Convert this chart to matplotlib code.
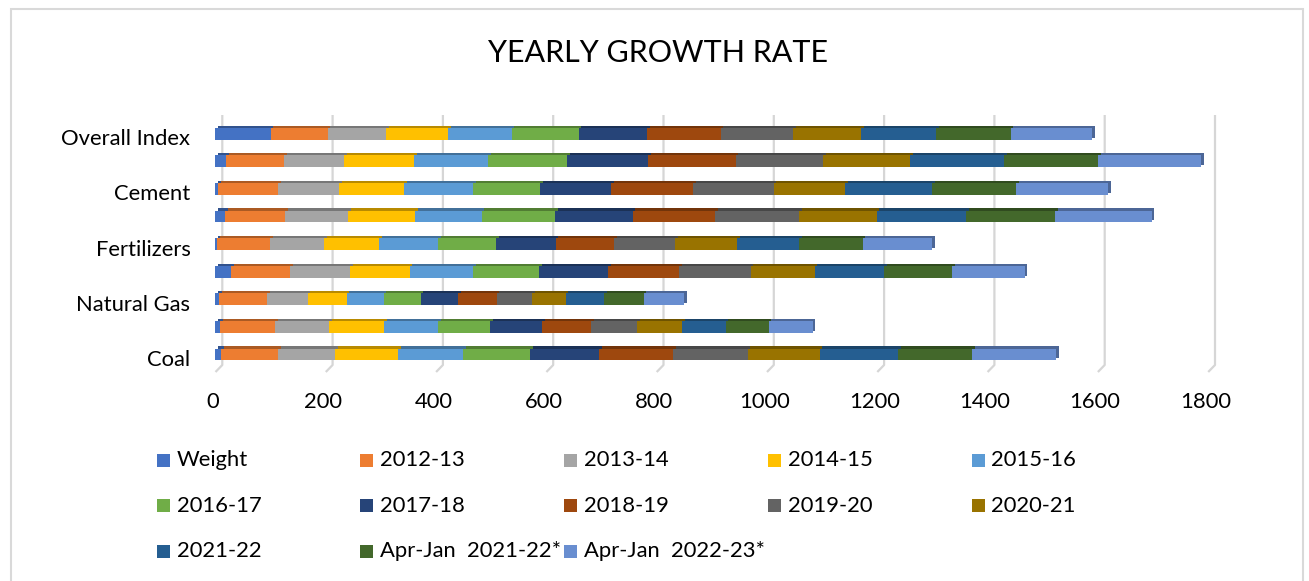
import matplotlib
matplotlib.use("Agg")
import matplotlib.pyplot as plt
import matplotlib.patheffects as pe
from matplotlib.patches import Rectangle
from matplotlib.transforms import IdentityTransform, ScaledTranslation
import matplotlib.colors as mcolors
import numpy as np

plt.rcParams['font.family'] = ['Lato', 'DejaVu Sans']

categories = ["Coal", "Crude Oil", "Natural Gas", "Refinery Products", "Fertilizers",
              "Steel", "Cement", "Electricity", "Overall Index"]

series_names = ["Weight", "2012-13", "2013-14", "2014-15", "2015-16", "2016-17",
                "2017-18", "2018-19", "2019-20", "2020-21", "2021-22",
                "Apr-Jan  2021-22*", "Apr-Jan  2022-23*"]

colors = ["#4472C4", "#ED7D31", "#A5A5A5", "#FFC000", "#5B9BD5", "#70AD47",
          "#264478", "#9E480E", "#636363", "#997300", "#255E91", "#43682B", "#698ED0"]

# values per category (order of series_names)
coal        = [10.33, 103.3, 103.4, 113.6, 118.5, 121.5, 124.5, 134.4, 135.3, 130.7, 142.9, 133.5, 153.0]
crude_oil   = [8.98, 99.7, 97.9, 99.1, 97.3, 94.9, 94.3, 89.5, 83.4, 81.0, 78.9, 78.1, 79.6]
natural_gas = [6.88, 86.5, 73.7, 70.7, 67.1, 67.1, 68.3, 69.5, 64.7, 60.4, 70.1, 71.4, 73.7]
refinery    = [28.04, 107.0, 108.8, 108.2, 115.4, 119.1, 125.7, 128.4, 129.7, 116.1, 126.0, 123.3, 131.5]
fertilizers = [2.63, 96.7, 97.3, 99.8, 106.9, 105.8, 107.6, 106.4, 109.9, 112.5, 112.6, 115.1, 126.8]
steel       = [17.92, 108.2, 113.7, 122.7, 120.2, 133.6, 140.2, 148.8, 152.9, 140.4, 163.0, 160.5, 175.3]
cement      = [5.37, 107.6, 110.6, 117.9, 125.1, 122.1, 128.7, 148.1, 146.4, 130.2, 157.0, 152.3, 167.2]
electricity = [19.85, 104.6, 108.8, 127.5, 133.6, 142.6, 148.1, 158.1, 159.0, 157.8, 170.6, 169.9, 186.6]
overall     = [100.0, 103.4, 106.4, 112.4, 114.8, 121.5, 123.9, 133.5, 131.4, 123.5, 136.0, 134.9, 148.3]

x_ticks = [0, 200, 400, 600, 800, 1000, 1200, 1400, 1600, 1800]

data = np.array([coal, crude_oil, natural_gas, refinery, fertilizers,
                 steel, cement, electricity, overall])  # shape (9, 13)

W, H = 1309, 581
FS = 15.8
fig = plt.figure(figsize=(W / 100, H / 100), dpi=100)

# axes placement (pixels from image top)
ax_left_px, ax_right_px = 215.5, 1208.2
ax_top_px, ax_bot_px = 115.0, 372.0
ax = fig.add_axes([ax_left_px / W, 1 - ax_bot_px / H,
                   (ax_right_px - ax_left_px) / W, (ax_bot_px - ax_top_px) / H])
ax.set_xlim(0, 1800)
ax.set_ylim(-0.634, 8.678)
for s in ax.spines.values():
    s.set_visible(False)

y = np.arange(len(categories))
left = np.zeros(len(categories))
bar_h = 0.43
for j, name in enumerate(series_names):
    vals = data[:, j]
    c = colors[j]
    dark = tuple(np.array(mcolors.to_rgb(c)) * 0.72)
    bars = ax.barh(y, vals, left=left, height=bar_h, color=c, zorder=3, linewidth=0)
    for p in bars.patches:
        p.set_path_effects([pe.withSimplePatchShadow(offset=(2.0, 1.5),
                                                     shadow_rgbFace=dark, alpha=1.0)])
    left = left + vals

# gridlines on the back wall with slanted floor ticks
fig.canvas.draw()
for v in x_ticks:
    xd = ax.transData.transform((v, 0))[0]
    xb = xd + 6.8
    ax.plot([xb, xb, xd], [H - ax_top_px, H - 365, H - ax_bot_px],
            transform=IdentityTransform(), color="#D6D6D6", lw=1.6,
            zorder=0, clip_on=False, solid_capstyle='butt')

ax.set_xticks(x_ticks)
ax.set_xticklabels([str(t) for t in x_ticks], fontsize=FS)
ax.tick_params(axis='x', length=0, pad=14.5)
for lab in ax.get_xticklabels():
    lab.set_transform(lab.get_transform() + ScaledTranslation(-2.8 / 100, 0, fig.dpi_scale_trans))

ax.set_yticks(y[::2])
ax.set_yticklabels(categories[::2], fontsize=FS)
ax.tick_params(axis='y', length=0, pad=18)
for lab in ax.get_yticklabels():
    lab.set_transform(lab.get_transform() + ScaledTranslation(0, -3.5 / 100, fig.dpi_scale_trans))

# title
fig.text(657.5 / W, 1 - 52.5 / H, "YEARLY GROWTH RATE", ha='center', va='center',
         fontsize=22, color='black')

# legend (manual, equally spaced columns like the original)
col_x0, col_dx = 156.7, 203.7
row_y0, row_dy = 460.5, 45.3
sq = 13.0
for k, name in enumerate(series_names):
    r, c = divmod(k, 5)
    xs = col_x0 + c * col_dx
    yc = row_y0 + r * row_dy
    fig.add_artist(Rectangle((xs / W, 1 - (yc + sq / 2) / H), sq / W, sq / H,
                             transform=fig.transFigure, facecolor=colors[k],
                             edgecolor='none'))
    fig.text((xs + sq + 7) / W, 1 - yc / H, name, ha='left', va='center',
             fontsize=FS, color='black')

# outer frame
fig.add_artist(Rectangle((11 / W, -0.02), (1303 - 11) / W, 1 - 9 / H + 0.02,
                         transform=fig.transFigure, facecolor='none',
                         edgecolor='#D9D9D9', lw=1.5))

fig.savefig("out.png", dpi=100)
